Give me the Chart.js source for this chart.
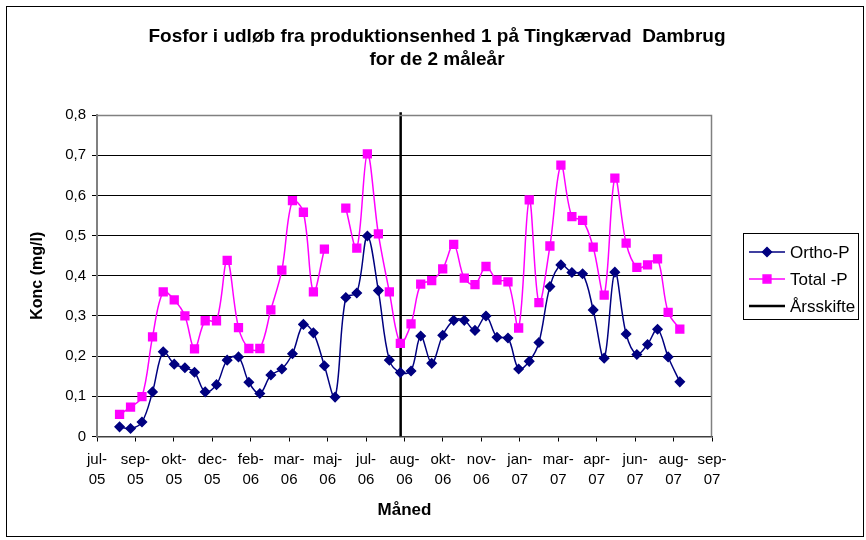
<!DOCTYPE html>
<html><head><meta charset="utf-8">
<script src="https://cdn.jsdelivr.net/npm/chart.js@4/dist/chart.umd.min.js"></script>
<style>html,body{margin:0;padding:0;background:#fff}#wrap{width:866px;height:540px;position:relative}</style>
</head><body><div id="wrap"><canvas id="c" width="866" height="540"></canvas></div>
<script>
// x tick labels (major unit of the date axis)
const tickLabels = [["jul-","05"],["sep-","05"],["okt-","05"],["dec-","05"],["feb-","06"],["mar-","06"],["maj-","06"],["jul-","06"],["aug-","06"],["okt-","06"],["nov-","06"],["jan-","07"],["mar-","07"],["apr-","07"],["jun-","07"],["aug-","07"],["sep-","07"]];
// sample positions along the axis (in major-unit steps from jul-05)
const sampleX = [0.587,0.873,1.170,1.445,1.723,2.009,2.287,2.537,2.815,3.109,3.387,3.681,3.951,4.237,4.523,4.809,5.085,5.370,5.630,5.916,6.194,6.473,6.759,7.034,7.320,7.606,7.892,8.170,8.422,8.708,8.994,9.280,9.555,9.834,10.120,10.406,10.692,10.970,11.245,11.497,11.783,12.069,12.355,12.633,12.909,13.195,13.473,13.766,14.045,14.323,14.583,14.859,15.163];
const orthoP = [0.024,0.020,0.036,0.111,0.211,0.180,0.171,0.160,0.111,0.129,0.190,0.198,0.135,0.107,0.153,0.168,0.206,0.279,0.258,0.176,0.098,0.346,0.357,0.499,0.363,0.190,0.159,0.163,0.250,0.182,0.252,0.289,0.289,0.264,0.300,0.247,0.245,0.168,0.187,0.234,0.373,0.427,0.408,0.405,0.315,0.195,0.409,0.255,0.204,0.229,0.267,0.198,0.136];
const totalP = [0.055,0.073,0.099,0.248,0.360,0.340,0.300,0.218,0.288,0.288,0.438,0.271,0.219,0.219,0.315,0.414,0.587,0.558,0.360,0.466,null,0.568,0.469,0.703,0.504,0.360,0.232,0.280,0.379,0.388,0.417,0.478,0.394,0.378,0.423,0.389,0.385,0.270,0.589,0.333,0.474,0.675,0.547,0.538,0.471,0.352,0.643,0.481,0.421,0.427,0.442,0.309,0.267];
const yearShiftX = 7.9;
const yearShiftY = [0, 0.807];

const FONT = "'Liberation Sans', Arial, sans-serif";
Chart.defaults.font.family = FONT;
Chart.defaults.color = '#000';

const toPts = arr => sampleX.map((x, i) => ({x, y: arr[i]}));

const frame = {
  id: 'frame',
  beforeDraw(chart) {
    const ctx = chart.ctx;
    ctx.save();
    ctx.fillStyle = '#fff';
    ctx.fillRect(0, 0, chart.width, chart.height);
    ctx.strokeStyle = '#000';
    ctx.lineWidth = 1;
    ctx.strokeRect(6.5, 6.5, 857, 530);
    ctx.restore();
  },
  afterDraw(chart) {
    const ctx = chart.ctx;
    const a = chart.chartArea;
    ctx.save();
    ctx.strokeStyle = '#808080';
    ctx.lineWidth = 1.5;
    ctx.beginPath();
    ctx.moveTo(a.left, a.top + 0.5);
    ctx.lineTo(a.right - 0.5, a.top + 0.5);
    ctx.lineTo(a.right - 0.5, a.bottom);
    ctx.stroke();
    // legend
    const lx = 743, ly = 233, lw = 115, lh = 86;
    ctx.fillStyle = '#fff';
    ctx.fillRect(lx, ly, lw, lh);
    ctx.strokeStyle = '#000';
    ctx.lineWidth = 1;
    ctx.strokeRect(lx + 0.5, ly + 0.5, lw, lh);
    const ds = chart.data.datasets;
    const rows = [252, 279, 306];
    ctx.font = '17px ' + FONT;
    ctx.textBaseline = 'middle';
    ctx.textAlign = 'left';
    ds.forEach((d, i) => {
      const y = rows[i];
      ctx.strokeStyle = d.borderColor;
      ctx.lineWidth = d.borderWidth;
      ctx.beginPath();
      ctx.moveTo(749, y);
      ctx.lineTo(785, y);
      ctx.stroke();
      if (d.pointRadius > 0) {
        ctx.fillStyle = d.pointBackgroundColor;
        ctx.strokeStyle = d.pointBorderColor;
        Chart.helpers.drawPoint(ctx, {pointStyle: d.pointStyle, radius: d.pointRadius, borderWidth: 1, rotation: 0}, 767, y);
      }
      ctx.fillStyle = '#000';
      ctx.fillText(d.label, 790, y + 1);
    });
    ctx.restore();
  }
};

new Chart(document.getElementById('c'), {
  type: 'line',
  data: {
    datasets: [
      {label: 'Ortho-P', data: toPts(orthoP), borderColor: '#000080', backgroundColor: '#000080',
       pointBackgroundColor: '#000080', pointBorderColor: '#000080', pointStyle: 'rectRot', pointRadius: 4.5,
       borderWidth: 1.5, tension: 0.35, spanGaps: false, order: 2},
      {label: 'Total -P', data: toPts(totalP), borderColor: '#FF00FF', backgroundColor: '#FF00FF',
       pointBackgroundColor: '#FF00FF', pointBorderColor: '#FF00FF', pointStyle: 'rect', pointRadius: 5.5,
       borderWidth: 1.5, tension: 0.35, spanGaps: false, order: 1},
      {label: 'Årsskifte', data: yearShiftY.map(y => ({x: yearShiftX, y})), borderColor: '#000', backgroundColor: '#000',
       pointRadius: 0, borderWidth: 2.5, tension: 0, order: 3, clip: {left: 0, right: 0, top: 5, bottom: 0}}
    ]
  },
  options: {
    responsive: false,
    animation: false,
    layout: {padding: {left: 8, top: 8, right: 0, bottom: 6}},
    plugins: {
      legend: {display: false},
      tooltip: {enabled: false},
      title: {
        display: true,
        text: ['Fosfor i udløb fra produktionsenhed 1 på Tingkærvad  Dambrug', 'for de 2 måleår'],
        font: {size: 19, weight: 'bold', lineHeight: 23/19},
        color: '#000',
        padding: {top: 17.5, bottom: 43.5}
      }
    },
    scales: {
      x: {
        type: 'linear', min: 0, max: 16,
        afterFit: s => { s.height = 97.5; },
        ticks: {stepSize: 1, autoSkip: false, maxRotation: 0, padding: 9,
          font: {size: 15, lineHeight: 1.3}, color: '#000',
          callback: v => tickLabels[v]},
        grid: {drawOnChartArea: false, drawTicks: true, tickLength: 5, color: '#000', tickColor: '#000'},
        border: {color: '#404040', width: 1.5},
        title: {display: true, text: 'Måned', font: {size: 17, weight: 'bold', lineHeight: 1.2}, color: '#000', padding: {top: 0, bottom: 13}}
      },
      y: {
        min: 0, max: 0.8,
        afterFit: s => { s.width = 89; },
        ticks: {stepSize: 0.1, padding: 6, font: {size: 15}, color: '#000',
          callback: v => Math.abs(v) < 1e-9 ? '0' : v.toFixed(1).replace('.', ',')},
        grid: {color: '#000', lineWidth: 1, tickLength: 5, tickColor: '#000'},
        border: {color: '#808080', width: 2},
        title: {display: true, text: 'Konc (mg/l)', font: {size: 16, weight: 'bold', lineHeight: 1.2}, color: '#000', padding: {top: 20, bottom: 0}}
      },
      yR: {
        position: 'right', display: true,
        afterFit: s => { s.width = 154; },
        grid: {display: false}, ticks: {display: false}, border: {display: false}
      }
    }
  },
  plugins: [frame]
});
</script>
</body></html>
